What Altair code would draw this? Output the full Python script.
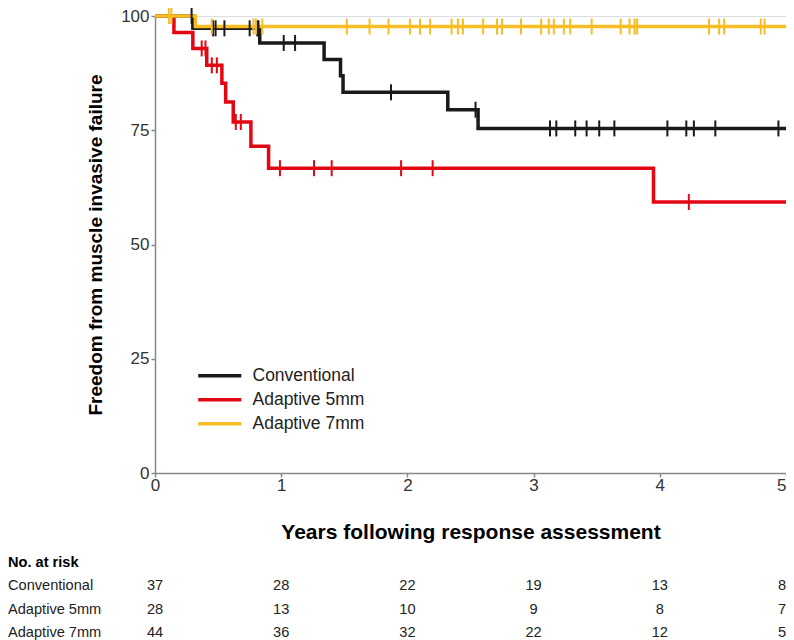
import altair as alt
import pandas as pd

# ---------------- data ----------------
groups = ["Conventional", "Adaptive 5mm", "Adaptive 7mm"]
colors = ["#1a1a1a", "#e30613", "#f6be24"]

# Kaplan-Meier step curves (time in years, survival in %)
conv_step_t = [0, 0.30, 0.83, 1.34, 1.47, 1.49, 2.32, 2.56, 5.0]
conv_step_s = [100, 97.3, 94.1, 90.5, 86.9, 83.3, 79.5, 75.4, 75.4]
a5_step_t = [0, 0.15, 0.30, 0.41, 0.53, 0.56, 0.62, 0.76, 0.90, 3.95, 5.0]
a5_step_s = [100, 96.4, 92.9, 89.2, 85.3, 81.2, 76.8, 71.5, 66.7, 59.3, 59.3]
a7_step_t = [0, 0.32, 5.0]
a7_step_s = [100, 97.7, 97.7]

# censoring times
conv_cens = [0.29, 0.46, 0.48, 0.55, 0.75, 0.81, 0.82, 1.02, 1.11, 1.87, 2.54,
             3.13, 3.18, 3.33, 3.42, 3.52, 3.64, 4.06, 4.21, 4.27, 4.44, 4.94]
a5_cens = [0.37, 0.40, 0.45, 0.49, 0.64, 0.68, 0.99, 1.26, 1.40, 1.95, 2.20, 4.23]
a7_cens = [0.11, 0.13, 0.45, 0.78, 0.80, 0.85, 1.52, 1.70, 1.85, 2.02, 2.10, 2.18,
           2.35, 2.40, 2.44, 2.60, 2.71, 2.75, 2.90, 3.06, 3.12, 3.16, 3.24, 3.29,
           3.46, 3.69, 3.76, 3.80, 3.82, 4.39, 4.47, 4.51, 4.80, 4.83]

# number at risk table
risk_times = [0, 1, 2, 3, 4, 5]
conv_risk = [37, 28, 22, 19, 13, 8]
a5_risk = [28, 13, 10, 9, 8, 7]
a7_risk = [44, 36, 32, 22, 12, 5]
risk_header = "No. at risk"

# ---------------- tables ----------------
step_parts, cens_parts, risk_parts = [], [], []
for g, st, ss, cc, rr in [
    (groups[0], conv_step_t, conv_step_s, conv_cens, conv_risk),
    (groups[1], a5_step_t, a5_step_s, a5_cens, a5_risk),
    (groups[2], a7_step_t, a7_step_s, a7_cens, a7_risk),
]:
    sdf = pd.DataFrame({"group": g, "t": st, "s": ss})
    step_parts.append(sdf)
    cdf = pd.DataFrame({"group": g, "t": sorted(cc)})
    cdf = pd.merge_asof(cdf, sdf.sort_values("t"), on="t", by="group")
    cens_parts.append(cdf)
    risk_parts.append(pd.DataFrame({"group": g, "t": risk_times, "n": rr}))

steps = pd.concat(step_parts, ignore_index=True)
cens = pd.concat(cens_parts, ignore_index=True)
risk = pd.concat(risk_parts, ignore_index=True)
header_df = pd.DataFrame({"group": [risk_header]})
labels_df = pd.DataFrame({"group": groups})

FONT = "Liberation Sans"

x_enc = alt.X(
    "t:Q",
    scale=alt.Scale(domain=[0, 5], nice=False, zero=False),
    axis=alt.Axis(
        values=[0, 1, 2, 3, 4, 5], format="d", grid=False,
        labelFontSize=17, labelColor="#333333", labelPadding=0, labelFlush=False,
        labelAlign={"condition": {"test": "datum.value == 5", "value": "right"}, "value": "center"},
        tickSize=4, tickColor="#888888", tickWidth=1.5,
        domainColor="#888888", domainWidth=1.5,
        title="Years following response assessment",
        titleFontSize=21, titleFontWeight="bold", titleColor="#000000",
        titlePadding=28,
    ),
)

y_enc = alt.Y(
    "s:Q",
    scale=alt.Scale(domain=[0, 100], nice=False),
    axis=alt.Axis(
        values=[0, 25, 50, 75, 100], grid=False,
        labelFontSize=17, labelColor="#333333", labelPadding=2,
        tickSize=4, tickColor="#888888", tickWidth=1.5,
        domainColor="#888888", domainWidth=1.5,
        title="Freedom from muscle invasive failure",
        titleFontSize=19, titleFontWeight="bold", titleColor="#000000",
        titlePadding=15,
    ),
)

color_enc = alt.Color(
    "group:N",
    scale=alt.Scale(domain=groups, range=colors),
    legend=alt.Legend(
        title=None, orient="none", legendX=56, legendY=351,
        symbolType="M-4,0H4", symbolSize=116, symbolStrokeWidth=3.5,
        symbolOpacity=1,
        labelFontSize=17.5, labelColor="#222222", labelOffset=24,
        rowPadding=5, padding=0,
    ),
)

lines = alt.Chart(steps).mark_line(
    interpolate="step-after", strokeWidth=3.5, opacity=1
).encode(x=x_enc, y=y_enc, color=color_enc)
ticks = alt.Chart(cens).mark_tick(
    orient="vertical", size=16, thickness=2, opacity=1
).encode(
    x=x_enc, y=alt.Y("s:Q", scale=alt.Scale(domain=[0, 100], nice=False)), color=color_enc
)
km = alt.layer(lines, ticks)

table_y = alt.Y(
    "group:N",
    scale=alt.Scale(type="point", domain=[risk_header] + groups, range=[547, 617], padding=0),
    axis=None,
)

TABLE_FS = 14.6
nums = alt.Chart(risk).transform_filter("datum.t < 5").mark_text(
    fontSize=TABLE_FS, color="#222222", font=FONT
).encode(x=x_enc, y=table_y, text="n:Q")
nums_last = alt.Chart(risk).transform_filter("datum.t >= 5").mark_text(
    fontSize=TABLE_FS, color="#222222", font=FONT, align="right"
).encode(x=x_enc, y=table_y, text="n:Q")
header = alt.Chart(header_df).mark_text(
    fontSize=TABLE_FS, fontWeight="bold", align="left", x=-147, color="#000000", font=FONT
).encode(y=table_y, text="group:N")
row_labels = alt.Chart(labels_df).mark_text(
    fontSize=TABLE_FS, align="left", x=-147, color="#222222", font=FONT
).encode(y=table_y, text="group:N")
table = alt.layer(nums, nums_last, header, row_labels)

chart = (
    alt.layer(km, table)
    .resolve_scale(y="independent")
    .properties(
        width=631, height=457,
        autosize=alt.AutoSizeParams(type="none"),
        padding={"left": 147, "top": 8, "right": 0, "bottom": 167},
        background="white",
    )
    .configure_view(stroke=None)
    .configure(font=FONT)
)

chart.save("out.html", embed_options={"renderer": "svg", "actions": False})
